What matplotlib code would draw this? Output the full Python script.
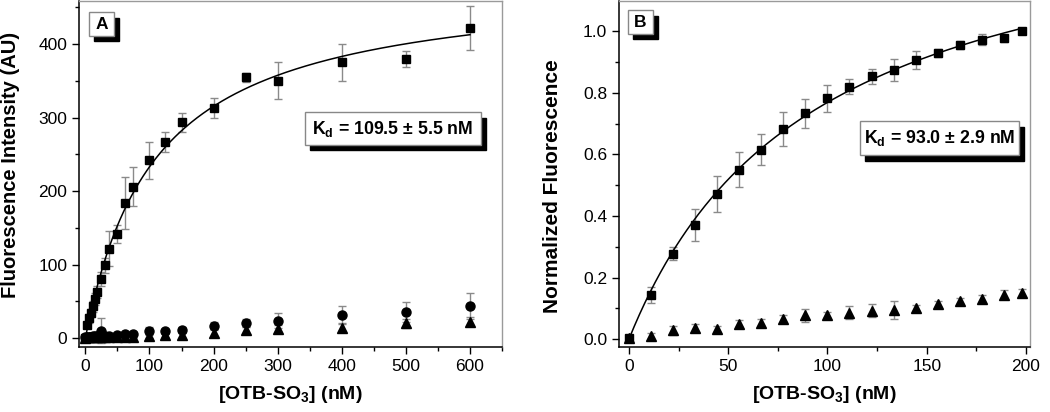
import numpy as np
import matplotlib
matplotlib.use("Agg")
import matplotlib.pyplot as plt
from matplotlib.patches import Rectangle
from matplotlib.ticker import MultipleLocator, FormatStrFormatter

plt.rcParams['font.family'] = ['Liberation Sans', 'DejaVu Sans']
plt.rcParams['mathtext.fontset'] = 'custom'
plt.rcParams['mathtext.rm'] = 'Liberation Sans'
plt.rcParams['mathtext.bf'] = 'Liberation Sans:bold'

# ---- panel A data (OTB-SO3 titration, raw intensity) ----
xa = [0, 3.125, 6.25, 9.375, 12.5, 15.625, 18.75, 25, 31.25, 37.5, 50, 62.5, 75,
      100, 125, 150, 200, 250, 300, 400, 500, 600]
sq_a = [0, 18, 27, 34, 43, 53, 63, 80.5, 99, 121.5, 142, 184, 206, 242, 267, 293.5,
        313, 355, 350, 375, 379.5, 422]
sq_a_err = [2, 4, 6, 6, 8, 8, 8, 10, 10, 24, 12, 35, 27, 25, 14, 13, 14, 6, 25, 25, 11, 30]
ci_a = [1, 2, 2, 2, 3, 3, 3, 10, 3, 3, 4, 6, 6, 9.5, 9, 10.5, 16.4, 20.5, 23.7, 32, 35.5, 43.7]
ci_a_err = [2, 2, 2, 2, 2, 2, 2, 17, 2, 2, 2, 2, 2, 5, 3, 4, 5, 5, 10, 12, 13, 18]
tr_a = [0.5, 1, 1, 1, 1, 1.5, 1.5, 1.5, 1.5, 1.5, 2, 2, 2, 3, 4, 4, 7, 10.5, 13, 14, 20, 22]
tr_a_err = [2, 2, 2, 2, 2, 2, 2, 2, 2, 2, 2, 2, 2, 3, 3, 4, 5, 5, 5, 5, 6, 6]
kd_a, bmax_a = 109.5, 488.0

# ---- panel B data (normalized) ----
xb = [0, 11.1, 22.2, 33.3, 44.4, 55.6, 66.7, 77.8, 88.9, 100, 111.1, 122.2, 133.3,
      144.4, 155.6, 166.7, 177.8, 188.9, 198]
sq_b = [0.003, 0.144, 0.278, 0.372, 0.472, 0.551, 0.616, 0.683, 0.734, 0.782, 0.820,
        0.854, 0.874, 0.906, 0.930, 0.956, 0.972, 0.977, 1.0]
sq_b_err = [0.005, 0.027, 0.022, 0.052, 0.058, 0.057, 0.05, 0.055, 0.047, 0.045, 0.025,
            0.025, 0.035, 0.03, 0.012, 0.012, 0.018, 0.012, 0.005]
tr_b = [0.004, 0.01, 0.029, 0.037, 0.034, 0.051, 0.053, 0.066, 0.077, 0.078, 0.086,
        0.093, 0.095, 0.101, 0.113, 0.123, 0.132, 0.145, 0.150]
tr_b_err = [0.005, 0.01, 0.015, 0.012, 0.01, 0.012, 0.013, 0.012, 0.02, 0.01, 0.022,
            0.02, 0.028, 0.01, 0.01, 0.01, 0.01, 0.015, 0.013]
kd_b, bmax_b = 93.0, 1.484

ERR = '#8a8a8a'


def style_axes(ax):
    for s in ['left', 'bottom']:
        ax.spines[s].set_color('black')
        ax.spines[s].set_linewidth(1.1)
    for s in ['top', 'right']:
        ax.spines[s].set_color('#9a9a9a')
        ax.spines[s].set_linewidth(1.0)
    ax.tick_params(which='major', direction='out', length=5, width=1, labelsize=12.5,
                   top=False, right=False)
    ax.tick_params(which='minor', direction='out', length=3, width=1, top=False, right=False)


def shadow_box(ax, x0, y0, x1, y1, text, fs, dx=0.012, dy=0.015):
    ax.add_patch(Rectangle((x0 + dx, y0 - dy), x1 - x0, y1 - y0, transform=ax.transAxes,
                           facecolor='black', edgecolor='black', zorder=5))
    ax.add_patch(Rectangle((x0, y0), x1 - x0, y1 - y0, transform=ax.transAxes,
                           facecolor='white', edgecolor='#888888', lw=1.0, zorder=6))
    ax.text((x0 + x1) / 2, (y0 + y1) / 2, text, transform=ax.transAxes, ha='center',
            va='center', fontsize=fs, fontweight='bold', zorder=7)


def series(ax, x, y, e, marker, ms):
    ax.errorbar(x, y, yerr=e, fmt='none', ecolor=ERR, elinewidth=1, capsize=3,
                capthick=1, zorder=2)
    ax.plot(x, y, linestyle='none', marker=marker, color='black', ms=ms, zorder=3)


fig = plt.figure(figsize=(10.5, 4.12), dpi=100)
axA = fig.add_axes([0.0752, 0.158, 0.4029, 0.8386])
axB = fig.add_axes([0.5895, 0.158, 0.3914, 0.8386])

# panel A
series(axA, xa, sq_a, sq_a_err, 's', 6)
series(axA, xa, ci_a, ci_a_err, 'o', 6.5)
series(axA, xa, tr_a, tr_a_err, '^', 6.5)
fx = np.linspace(0, 600, 400)
axA.plot(fx, bmax_a * fx / (kd_a + fx), color='black', lw=1.1, zorder=4)
axA.set_xlim(-10, 650)
axA.set_ylim(-12, 458)
axA.xaxis.set_major_locator(MultipleLocator(100))
axA.xaxis.set_minor_locator(MultipleLocator(50))
axA.yaxis.set_major_locator(MultipleLocator(100))
axA.yaxis.set_minor_locator(MultipleLocator(50))
style_axes(axA)
axA.set_xlabel(r'[OTB-SO$_\mathbf{3}$] (nM)', fontsize=14, fontweight='bold')
axA.set_ylabel('Fluorescence Intensity (AU)', fontsize=14.5, fontweight='bold')
axA.xaxis.set_label_coords(0.5, -0.107)
axA.yaxis.set_label_coords(-0.1395, 0.527)
shadow_box(axA, 0.0236, 0.9007, 0.0835, 0.968, 'A', 12.5)
shadow_box(axA, 0.534, 0.585, 0.950, 0.6785, r'$\mathbf{K_d}$ = 109.5 ± 5.5 nM', 12.8)

# panel B
series(axB, xb, sq_b, sq_b_err, 's', 6)
series(axB, xb, tr_b, tr_b_err, '^', 6.5)
fxb = np.linspace(0, 198, 300)
axB.plot(fxb, bmax_b * fxb / (kd_b + fxb), color='black', lw=1.1, zorder=4)
axB.set_xlim(-5, 202)
axB.set_ylim(-0.025, 1.097)
axB.xaxis.set_major_locator(MultipleLocator(50))
axB.xaxis.set_minor_locator(MultipleLocator(25))
axB.yaxis.set_major_locator(MultipleLocator(0.2))
axB.yaxis.set_minor_locator(MultipleLocator(0.1))
axB.yaxis.set_major_formatter(FormatStrFormatter('%.1f'))
style_axes(axB)
axB.set_xlabel(r'[OTB-SO$_\mathbf{3}$] (nM)', fontsize=14, fontweight='bold')
axB.set_ylabel('Normalized Fluorescence', fontsize=15, fontweight='bold')
axB.xaxis.set_label_coords(0.5, -0.107)
axB.yaxis.set_label_coords(-0.139, 0.466)
shadow_box(axB, 0.0212, 0.9056, 0.0835, 0.974, 'B', 12.5)
shadow_box(axB, 0.5864, 0.554, 0.9732, 0.6525, r'$\mathbf{K_d}$ = 93.0 ± 2.9 nM', 12.8)

fig.savefig('out.png', dpi=100)
